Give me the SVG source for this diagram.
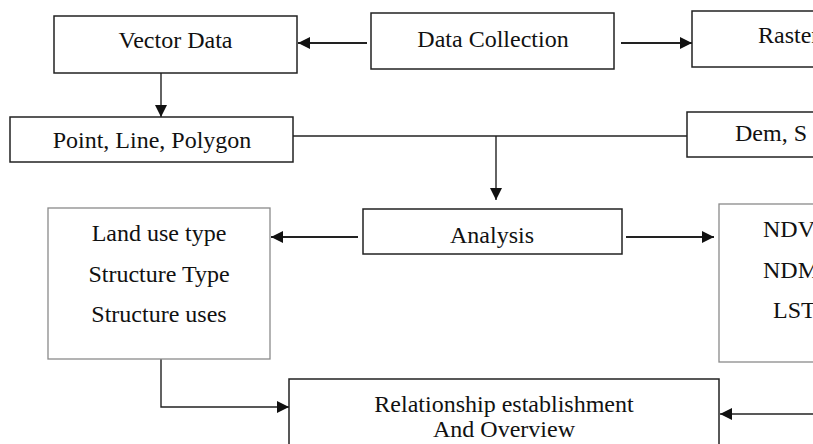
<svg xmlns="http://www.w3.org/2000/svg" width="813" height="444" viewBox="0 0 813 444">
<defs>
<style>
.box{fill:#fff;stroke:#222;stroke-width:1.5}
.gbox{fill:#fff;stroke:#8a8a8a;stroke-width:1.3}
text{font-family:'Liberation Serif','Times New Roman',serif;font-size:24px;fill:#111}
.c{text-anchor:middle}
.ln{fill:none;stroke:#222;stroke-width:1.4}
.thick{stroke-width:2.2}
</style>
<marker id="ah" markerUnits="userSpaceOnUse" markerWidth="12" markerHeight="12" refX="12" refY="6" orient="auto">
<path d="M0,0 L12,6 L0,12 z" fill="#111"/>
</marker>
</defs>
<rect width="813" height="444" fill="#fff"/>
<g id="connectors">
<line class="ln thick" x1="367" y1="43" x2="298" y2="43" marker-end="url(#ah)"/>
<line class="ln thick" x1="621" y1="43" x2="692" y2="43" marker-end="url(#ah)"/>
<line class="ln" x1="161" y1="73" x2="161" y2="117" marker-end="url(#ah)"/>
<line class="ln" x1="293" y1="136" x2="687" y2="136"/>
<line class="ln" x1="496" y1="136" x2="496" y2="200" marker-end="url(#ah)"/>
<line class="ln thick" x1="358" y1="237" x2="271" y2="237" marker-end="url(#ah)"/>
<line class="ln thick" x1="626" y1="237" x2="714" y2="237" marker-end="url(#ah)"/>
<polyline class="ln" points="161,359 161,407 289,407" marker-end="url(#ah)"/>
<line class="ln" x1="813" y1="414" x2="720" y2="414" marker-end="url(#ah)"/>
</g>
<g id="vector-data">
<rect class="box" x="54" y="16" width="243" height="57"/>
<text class="c" x="175.5" y="48" font-family="Liberation Serif, serif">Vector Data</text>
</g>
<g id="data-collection">
<rect class="box" x="371" y="13" width="243" height="56"/>
<text class="c" x="493" y="47" font-family="Liberation Serif, serif">Data Collection</text>
</g>
<g id="raster-data">
<rect class="box" x="692" y="11" width="140" height="56"/>
<text x="758" y="43" font-family="Liberation Serif, serif">Raster</text>
</g>
<g id="point-line-polygon">
<rect class="box" x="10" y="117" width="283" height="45"/>
<text class="c" x="152" y="148" font-family="Liberation Serif, serif">Point, Line, Polygon</text>
</g>
<g id="dem">
<rect class="box" x="687" y="112" width="140" height="45"/>
<text x="735" y="141" font-family="Liberation Serif, serif">Dem, S</text>
</g>
<g id="analysis">
<rect class="box" x="363" y="209" width="259" height="45"/>
<text class="c" x="492" y="243" font-family="Liberation Serif, serif">Analysis</text>
</g>
<g id="land-use">
<rect class="gbox" x="48" y="208" width="222" height="151"/>
<text class="c" x="159" y="241" font-family="Liberation Serif, serif">Land use type</text>
<text class="c" x="159" y="282" font-family="Liberation Serif, serif">Structure Type</text>
<text class="c" x="159" y="322" font-family="Liberation Serif, serif">Structure uses</text>
</g>
<g id="indices">
<rect class="gbox" x="719" y="204" width="120" height="158"/>
<text x="763" y="237" font-family="Liberation Serif, serif">NDVI</text>
<text x="763" y="278" font-family="Liberation Serif, serif">NDMI</text>
<text x="773" y="318" font-family="Liberation Serif, serif">LST</text>
</g>
<g id="relationship">
<rect class="box" x="289" y="379" width="430" height="80"/>
<text class="c" x="504" y="412" font-family="Liberation Serif, serif">Relationship establishment</text>
<text class="c" x="504" y="437" font-family="Liberation Serif, serif">And Overview</text>
</g>
</svg>
